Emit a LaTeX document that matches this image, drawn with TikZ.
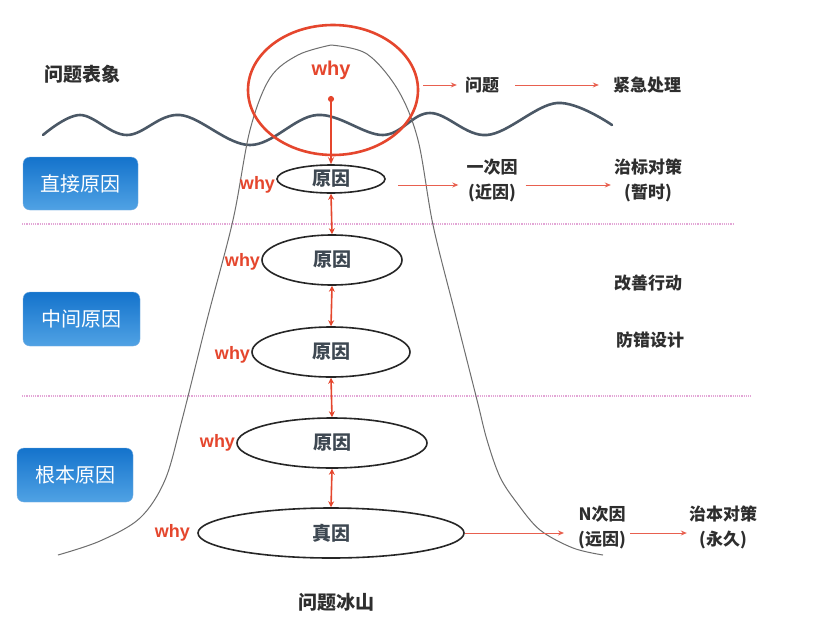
\documentclass[tikz,border=0pt]{standalone}
\usepackage{fontspec}
\setmainfont{Noto Sans CJK SC}
\newfontfamily\whyfont{Liberation Sans}
\usetikzlibrary{arrows.meta,shapes.geometric}
\definecolor{redc}{HTML}{E5462D}
\definecolor{arrc}{HTML}{E8604F}
\definecolor{wavec}{HTML}{4B5866}
\definecolor{mtc}{HTML}{6E6E6E}
\definecolor{txtc}{HTML}{2E2E2E}
\definecolor{elltxt}{HTML}{3E4852}
\definecolor{boxtop}{HTML}{1473CC}
\definecolor{boxbot}{HTML}{50A2E4}
\definecolor{pinkc}{HTML}{E3A6D6}
\tikzset{
  cause/.style={ellipse, draw=black!85, line width=1.6pt, inner sep=0pt,
    text=elltxt, font=\fontsize{19}{19}\selectfont\bfseries},
  whylab/.style={text=redc, font=\whyfont\fontsize{18}{18}\selectfont\bfseries,
    inner sep=1pt, anchor=east},
  level/.style={rounded corners=7pt, top color=boxtop, bottom color=boxbot,
    draw=boxtop!60, line width=0.4pt, text=white,
    font=\fontsize{20}{20}\selectfont},
  lab/.style={text=txtc, font=\fontsize{17}{25}\selectfont\bfseries, align=center, inner sep=2pt},
  link/.style={draw=redc, line width=1.6pt},
  flow/.style={draw=arrc, line width=1pt, -{Stealth[length=6pt,width=5pt]}},
  sep/.style={draw=pinkc, line width=1.6pt, dash pattern=on 1.2pt off 1pt}
}
\begin{document}
\begin{tikzpicture}[x=1pt,y=-1pt]
\useasboundingbox (0,0) rectangle (818,629);
\fill[white] (0,0) rectangle (818,629);

% separators
\draw[sep] (22,224) -- (733,224);
\draw[sep] (22,396) -- (752,396);

% wave
\draw[wavec, line width=2.6pt, line cap=round]
  plot[smooth, tension=0.6] coordinates {(43,135) (80,115) (127,135) (180,115) (250,145) (317,115) (383,135) (430,113) (487,135) (557,103) (612,125)};

% iceberg
\draw[mtc, line width=1pt]
  plot[smooth, tension=0.55] coordinates {(58,555) (100,541) (140,518) (165,480) (182,420) (207,320) (233,220) (250,130) (270,78) (298,55) (331,45)};
\draw[mtc, line width=1pt]
  plot[smooth, tension=0.55] coordinates {(331,45) (367,54) (398,90) (418,140) (433,225) (455,313) (477,400) (487,440) (500,477) (517,503) (540,530) (573,548) (603,555)};

% red circle
\node[ellipse, draw=redc, line width=2.6pt, minimum width=170pt, minimum height=130pt] (top) at (333,90) {};
\node[text=redc, font=\whyfont\fontsize{20}{20}\selectfont\bfseries] (whytop) at (331,70) {why};
\coordinate (d0) at (331,96);

% cause ellipses
\node[cause, minimum width=108pt, minimum height=28pt] (e1) at (331,179) {原因};
\node[cause, minimum width=140pt, minimum height=50pt] (e2) at (332,260) {原因};
\node[cause, minimum width=158pt, minimum height=50pt] (e3) at (331,352) {原因};
\node[cause, minimum width=190pt, minimum height=50pt] (e4) at (332,443) {原因};
\node[cause, minimum width=266pt, minimum height=50pt] (e5) at (331,533) {真因};

\node[whylab] (w1) at ([yshift=-6pt]e1.west) {why};
\node[whylab] (w2) at ([yshift=-2pt]e2.west) {why};
\node[whylab] (w3) at ([yshift=-3pt]e3.west) {why};
\node[whylab] (w4) at ([yshift=0pt]e4.west) {why};
\node[whylab] (w5) at ([yshift=0pt,xshift=-6pt]e5.west) {why};

% red connectors
\draw[link, {Circle[length=6pt]}-{Stealth[length=7pt,width=6pt]}] (d0) -- (e1.north);
\draw[link, {Stealth[length=6pt,width=6pt]}-{Stealth[length=6pt,width=6pt]}] (e1.south) -- (e2.north);
\draw[link, {Stealth[length=6pt,width=6pt]}-{Stealth[length=6pt,width=6pt]}] (e2.south) -- (e3.north);
\draw[link, {Stealth[length=6pt,width=6pt]}-{Stealth[length=6pt,width=6pt]}] (e3.south) -- (e4.north);
\draw[link, {Stealth[length=6pt,width=6pt]}-{Stealth[length=6pt,width=6pt]}] (e4.south) -- (e5.north);

% left labels
\node[text=txtc, font=\fontsize{19}{19}\selectfont\bfseries] (surface) at (82,74) {问题表象};
\node[level, minimum width=115pt, minimum height=53pt] (b1) at (80.5,183.5) {直接原因};
\node[level, minimum width=117pt, minimum height=54pt] (b2) at (81.5,319) {中间原因};
\node[level, minimum width=116pt, minimum height=54pt] (b3) at (75,475) {根本原因};

% right side
\coordinate (a0) at (423,85);
\node[lab, inner sep=8pt] (p1) at (482,85) {问题};
\node[lab] (p2) at (647,85) {紧急处理};
\draw[flow] (a0) -- (p1.west);
\draw[flow, shorten <=8pt, shorten >=12pt] (p1.east) -- (p2.west);

\coordinate (a1) at (398,185);
\node[lab] (q1) at (492,180) {一次因\\(近因)};
\node[lab] (q2) at (648,180) {治标对策\\(暂时)};
\draw[flow] (a1) -- ([xshift=-6pt]q1.west |- a1);
\draw[flow] ([xshift=6pt]q1.east |- a1) -- ([xshift=-1pt]q2.west |- a1);

\node[lab] (m1) at (648,283) {改善行动};
\node[lab] (m2) at (650,340) {防错设计};

\node[lab] (r1) at (602,527) {N次因\\(远因)};
\node[lab] (r2) at (723,527) {治本对策\\(永久)};
\draw[flow] (e5.east) -- ([xshift=-12pt]r1.west |- e5.east);
\draw[flow] ([xshift=2pt]r1.east |- e5.east) -- ([xshift=0pt]r2.west |- e5.east);

\node[text=txtc, font=\fontsize{19}{19}\selectfont\bfseries] (title) at (336,602) {问题冰山};
\end{tikzpicture}
\end{document}
